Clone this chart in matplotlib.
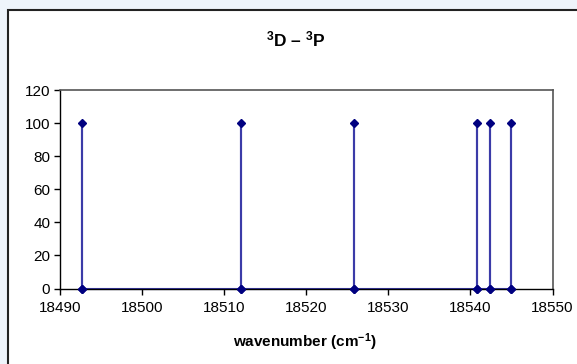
import matplotlib
matplotlib.use("Agg")
import matplotlib.pyplot as plt
from matplotlib.patches import Rectangle

plt.rcParams['font.family'] = ['Liberation Sans', 'DejaVu Sans']
plt.rcParams['mathtext.fontset'] = 'custom'
plt.rcParams['mathtext.rm'] = 'Liberation Sans:bold'
plt.rcParams['mathtext.it'] = 'Liberation Sans:bold'
plt.rcParams['mathtext.bf'] = 'Liberation Sans:bold'

# data
line_positions = [18492.7, 18512.0, 18525.8, 18540.85, 18542.4, 18545.0]
intensities = [100, 100, 100, 100, 100, 100]
x_ticks = [18490, 18500, 18510, 18520, 18530, 18540, 18550]
y_ticks = [0, 20, 40, 60, 80, 100, 120]
title = r'$^3$D – $^3$P'
xlabel = r'wavenumber (cm$^{-1}$)'

# build stick-spectrum path: 0 -> I -> 0 at each position
xs, ys = [], []
for p, i in zip(line_positions, intensities):
    xs += [p, p, p]
    ys += [0, i, 0]

W, H = 577, 364
fig = plt.figure(figsize=(W / 100, H / 100), dpi=100)
fig.patch.set_facecolor('#EEF4FB')
# white chart area with black border (extends past right/bottom edges)
fig.patches.append(Rectangle((8 / W, -0.1), 1.2, 1 - 10 / H + 0.1,
                             transform=fig.transFigure, facecolor='white',
                             edgecolor='#222222', linewidth=1.5, zorder=-1))

ax = fig.add_axes([60 / W, 1 - 288.5 / H, (552.5 - 60) / W, (288.5 - 90) / H])
ax.set_zorder(1)
ax.set_facecolor('white')
ax.plot(xs, ys, color='#3B3BA8', linewidth=1.5, zorder=2, clip_on=False)
ax.plot(xs, ys, linestyle='none', marker='D', markersize=4.5,
        color='#000080', zorder=3, clip_on=False)

ax.set_xlim(x_ticks[0], x_ticks[-1])
ax.set_ylim(y_ticks[0], y_ticks[-1])
ax.set_xticks(x_ticks)
ax.set_yticks(y_ticks)
ax.set_xticklabels([str(t) for t in x_ticks])
ax.set_yticklabels([str(t) for t in y_ticks])
ax.tick_params(axis='both', direction='out', length=4, width=1, color='black',
               labelsize=11, pad=3)
ax.tick_params(axis='x', pad=5)
for s in ['left', 'bottom']:
    ax.spines[s].set_color('black')
    ax.spines[s].set_linewidth(1)
for s in ['top', 'right']:
    ax.spines[s].set_color('#555555')
    ax.spines[s].set_linewidth(1.2)

fig.text(296 / W, 1 - 39 / H, title, ha='center', va='center',
         fontsize=12.5, fontweight='bold')
fig.text(305 / W, 1 - 342 / H, xlabel, ha='center', va='center',
         fontsize=11, fontweight='bold')

fig.savefig('out.png', dpi=100, facecolor=fig.get_facecolor())
